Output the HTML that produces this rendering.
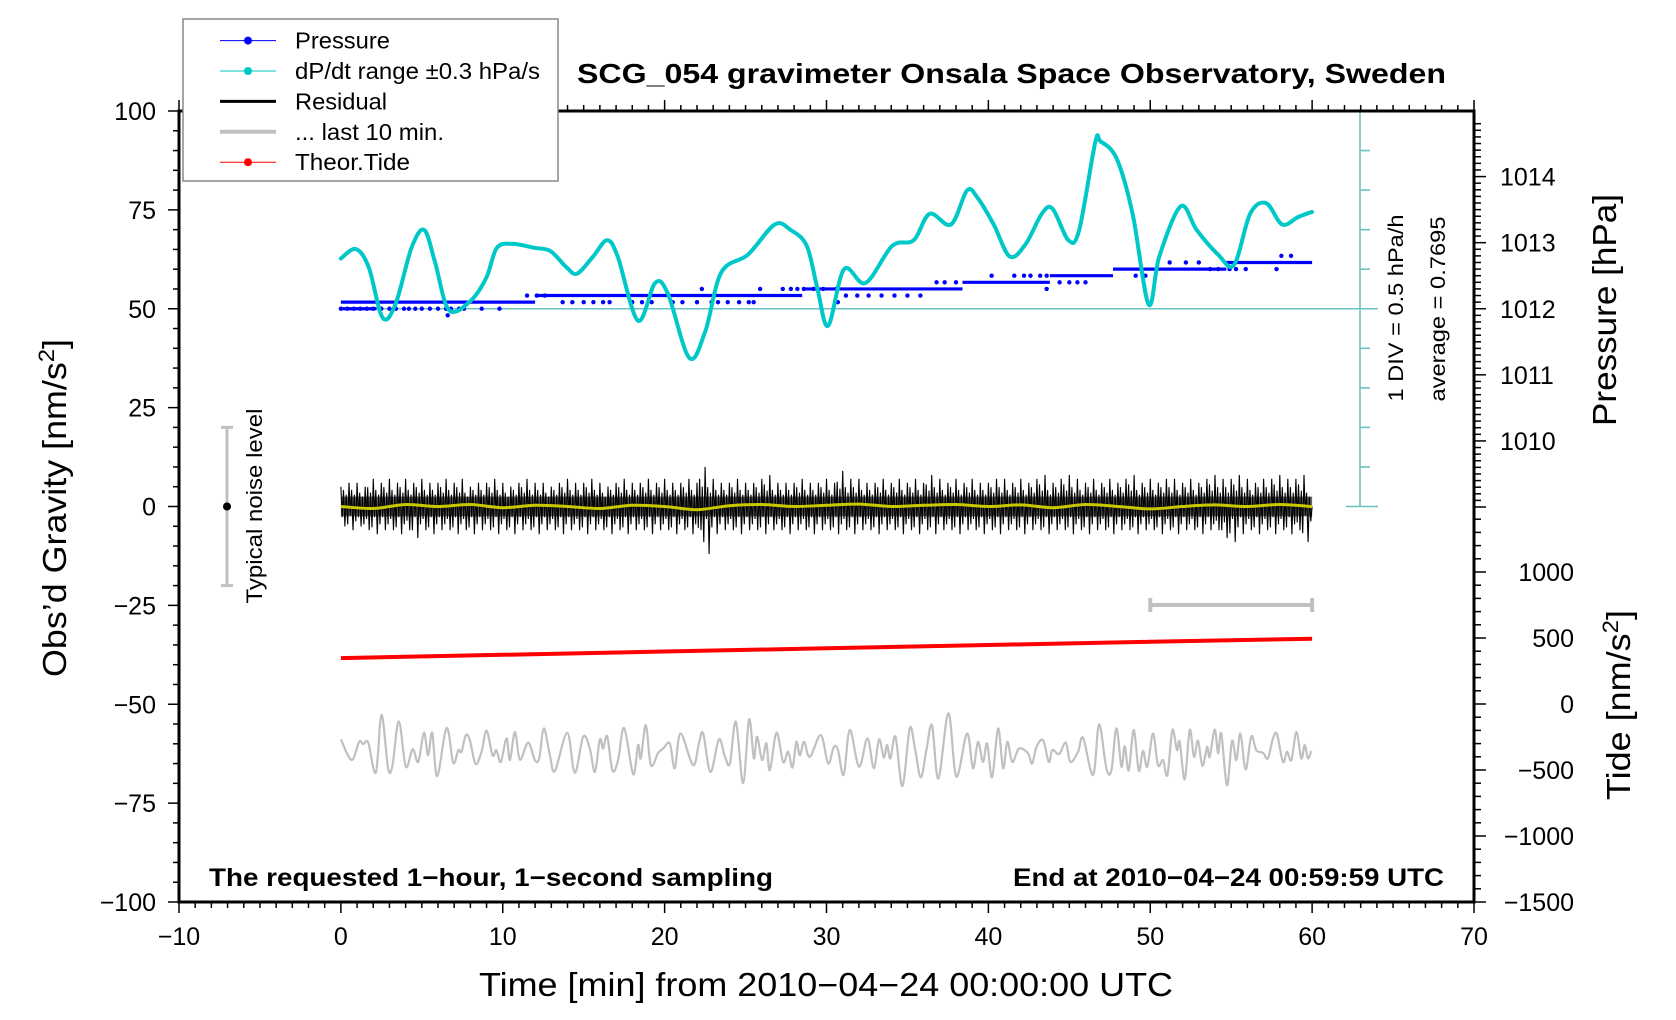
<!DOCTYPE html>
<html><head><meta charset="utf-8"><title>SCG_054 gravimeter</title>
<style>
html,body{margin:0;padding:0;background:#fff;}
svg{display:block;font-family:"Liberation Sans",sans-serif;}
</style></head>
<body>
<svg id="chart" xmlns="http://www.w3.org/2000/svg" width="1676" height="1020" viewBox="0 0 1676 1020">
  <rect x="0" y="0" width="1676" height="1020" fill="#fff"/>
  <g id="marks"></g>
  <g id="axes"></g>
  <text x="577" y="83" font-size="28" font-weight="bold" textLength="869" lengthAdjust="spacingAndGlyphs">SCG_054 gravimeter Onsala Space Observatory, Sweden</text>
  <text transform="translate(66,508) rotate(-90)" text-anchor="middle" font-size="33" textLength="338" lengthAdjust="spacingAndGlyphs">Obs’d Gravity [nm/s<tspan font-size="22" dy="-12">2</tspan><tspan dy="12">]</tspan></text>
  <text transform="translate(1616,310) rotate(-90)" text-anchor="middle" font-size="33" textLength="232" lengthAdjust="spacingAndGlyphs">Pressure [hPa]</text>
  <text transform="translate(1630,705) rotate(-90)" text-anchor="middle" font-size="33" textLength="190" lengthAdjust="spacingAndGlyphs">Tide [nm/s<tspan font-size="22" dy="-12">2</tspan><tspan dy="12">]</tspan></text>
  <text x="826" y="996" text-anchor="middle" font-size="33" textLength="694" lengthAdjust="spacingAndGlyphs">Time [min] from 2010−04−24 00:00:00 UTC</text>
  <text x="209" y="886" font-size="25" font-weight="bold" textLength="564" lengthAdjust="spacingAndGlyphs">The requested 1−hour, 1−second sampling</text>
  <text x="1444" y="886" text-anchor="end" font-size="25" font-weight="bold" textLength="431" lengthAdjust="spacingAndGlyphs">End at 2010−04−24 00:59:59 UTC</text>
  <text transform="translate(1403,308) rotate(-90)" text-anchor="middle" font-size="21" textLength="187" lengthAdjust="spacingAndGlyphs">1 DIV = 0.5 hPa/h</text>
  <text transform="translate(1445,309) rotate(-90)" text-anchor="middle" font-size="21" textLength="185" lengthAdjust="spacingAndGlyphs">average = 0.7695</text>
  <text transform="translate(262,506) rotate(-90)" text-anchor="middle" font-size="22" textLength="195" lengthAdjust="spacingAndGlyphs">Typical noise level</text>
  <g id="legend"></g>
</svg>
<script>
// ---------- data ----------
const xTicks = [-10,0,10,20,30,40,50,60,70];
const gravTicks = [100,75,50,25,0,-25,-50,-75,-100];
const pressTicks = [1010,1011,1012,1013,1014];
const tideTicks = [1000,500,0,-500,-1000,-1500];
const dpdtAverage = 0.7695;
const dpdtT = [0,0.92,1.72,2.57,3.37,4.36,5.15,5.81,6.67,7.99,8.98,9.64,10.63,11.95,12.94,13.93,14.59,15.58,16.44,17.10,18.35,19.41,20.20,21.52,22.51,23.50,25.15,26.80,27.79,28.78,29.44,30.10,31.09,32.41,34.06,35.38,36.37,37.69,38.68,39.34,40.33,41.32,42.31,43.30,43.96,44.95,45.61,46.60,46.93,47.92,48.91,49.90,50.56,51.88,52.87,54.19,55.18,56.17,57.16,58.15,59.14,60];
const dpdtDiv = [1.27,1.51,1.05,-0.22,0.11,1.54,1.99,1.19,-0.03,0.19,0.78,1.54,1.64,1.54,1.46,1.05,0.89,1.32,1.73,1.32,-0.30,0.65,0.38,-1.24,-0.57,0.92,1.37,2.13,1.99,1.59,0.51,-0.43,1.00,0.65,1.59,1.73,2.40,2.13,2.99,2.80,2.13,1.32,1.64,2.40,2.53,1.73,1.99,4.20,4.23,3.80,2.40,0.11,1.32,2.59,1.99,1.37,1.11,2.40,2.67,2.13,2.32,2.45];
const pressBreaks = [0,12,28.5,38.4,43.8,47.7,54.7,60];
const pressLevels = [1012.1,1012.2,1012.3,1012.4,1012.5,1012.6,1012.7];
const pressDotT = [0,0.4,0.8,1.2,1.6,2.0,2.5,3.0,3.4,3.9,4.2,4.6,5.0,5.5,6.0,6.5,6.8,7.3,7.6,8.7,9.8,6.6,11.5,12.1,12.6,13.7,14.3,15.0,15.6,16.2,16.6,18.0,18.6,19.2,20.5,21.1,22.0,22.9,23.3,23.9,24.6,25.2,25.5,22.3,25.9,27.3,27.8,28.2,28.6,29.2,29.8,30.6,31.2,31.9,32.6,33.4,34.2,35.0,35.8,30.7,36.8,37.3,38.0,40.2,41.6,42.2,42.6,43.2,43.6,44.4,45.0,45.5,46.0,43.6,49.1,49.7,51.2,52.2,53.0,53.7,54.2,54.9,55.3,55.9,58.1,58.7,57.8];
const pressDotP = [1012.0,1012.0,1012.0,1012.0,1012.0,1012.0,1012.0,1012.0,1012.0,1012.0,1012.0,1012.0,1012.0,1012.0,1012.0,1012.0,1012.0,1012.0,1012.0,1012.0,1012.0,1011.9,1012.2,1012.2,1012.2,1012.1,1012.1,1012.1,1012.1,1012.1,1012.1,1012.1,1012.1,1012.1,1012.1,1012.1,1012.1,1012.1,1012.1,1012.1,1012.1,1012.1,1012.1,1012.3,1012.3,1012.3,1012.3,1012.3,1012.3,1012.3,1012.3,1012.3,1012.2,1012.2,1012.2,1012.2,1012.2,1012.2,1012.2,1012.1,1012.4,1012.4,1012.4,1012.5,1012.5,1012.5,1012.5,1012.5,1012.5,1012.4,1012.4,1012.4,1012.4,1012.3,1012.5,1012.5,1012.7,1012.7,1012.7,1012.6,1012.6,1012.6,1012.6,1012.6,1012.8,1012.8,1012.6];
const resHi = [5,6,6,5,7,6,7,6,7,6,7,6,6,7,6,7,5,6,6,7,6,5,6,7,6,6,5,6,7,6,6,7,6,5,6,7,6,6,7,6,7,6,6,7,6,10,7,6,6,7,6,6,7,8,6,6,6,7,6,6,7,6,9,7,7,6,6,7,6,7,6,7,6,8,7,6,7,6,7,6,6,7,7,6,7,6,7,8,6,7,8,7,6,7,6,7,6,7,8,6,7,6,7,7,6,7,6,7,8,7,7,8,7,6,7,7,8,7,7,8];
const resLo = [-5,-6,-5,-6,-7,-6,-6,-7,-6,-8,-6,-7,-6,-6,-7,-6,-7,-6,-6,-7,-6,-7,-6,-6,-7,-6,-6,-7,-6,-6,-7,-6,-6,-7,-6,-7,-6,-6,-7,-6,-6,-7,-6,-7,-6,-12,-7,-6,-6,-7,-6,-6,-7,-6,-6,-7,-6,-6,-7,-6,-6,-7,-6,-7,-6,-6,-7,-6,-6,-7,-6,-7,-6,-7,-6,-6,-7,-6,-6,-7,-6,-7,-6,-6,-7,-6,-6,-7,-6,-6,-7,-6,-7,-6,-6,-7,-6,-6,-7,-6,-6,-7,-6,-7,-6,-6,-7,-6,-6,-8,-9,-7,-6,-7,-6,-7,-6,-7,-6,-9];
const smoothV = [0,-0.5,0.5,0,0.5,-0.3,0.3,0,-0.5,0.3,0,-0.8,0.2,0.5,0,0.3,0.6,0,0.3,0.5,0,0.4,-0.3,0.5,0,-0.6,0,0.4,0,0.5,0];
const lastOffset = -61.6;
const lastT = [0.0,0.66,1.13,1.38,1.69,2.16,2.51,2.92,3.19,3.58,4.01,4.43,4.78,5.13,5.39,5.64,5.95,6.53,6.94,7.25,7.45,7.72,7.97,8.32,8.69,9.00,9.37,9.61,9.88,10.23,10.44,10.75,11.06,11.57,11.98,12.25,12.54,12.91,13.22,13.98,14.45,14.97,15.38,15.69,16.00,16.20,16.45,16.78,17.13,17.50,18.06,18.36,18.53,18.84,19.15,19.60,19.91,20.32,20.63,20.98,21.76,22.13,22.38,22.83,23.35,23.72,24.03,24.40,24.85,25.22,25.51,25.71,26.02,26.29,26.50,26.91,27.32,27.63,27.90,28.14,28.35,28.62,28.97,29.65,30.10,30.45,30.71,31.06,31.44,32.01,32.53,32.92,33.25,33.54,33.74,33.95,34.26,34.69,35.14,35.45,35.82,36.17,36.52,36.91,37.53,38.02,38.68,39.05,39.36,39.67,39.92,40.23,40.60,40.91,41.17,41.48,41.89,42.45,42.70,42.97,43.38,43.73,43.95,44.37,44.78,45.07,45.54,45.85,46.47,46.84,47.29,47.60,47.91,48.22,48.42,48.67,48.98,49.29,49.55,49.82,50.17,50.48,50.79,51.06,51.37,51.65,51.82,52.13,52.44,52.70,52.95,53.22,53.51,53.67,53.98,54.19,54.39,54.74,55.05,55.32,55.57,55.89,56.24,56.55,56.97,57.27,57.58,57.83,58.20,58.45,58.72,59.03,59.33,59.54,59.74,59.95];
const lastV = [2.7,-2.5,2.1,1.5,1.9,-5.7,8.9,-4.6,-3.8,7.3,-4.2,0.2,-3.0,4.4,-1.3,4.4,-6.6,5.6,-3.2,0,-0.4,3.8,2.5,-3.5,-0.4,4.9,-1.3,0,-3.0,3.0,-2.5,4.6,-2.4,1.9,-2.5,-2.1,5.5,-1.3,-5.3,4.4,-5.7,3.4,0.4,-5.5,2.7,0.4,3.5,-5.2,-2.4,5.6,-6.1,1.3,-2.1,6.3,-3.8,-0.7,0.4,1.7,-4.6,4.2,-3.8,1.9,4.2,-5.5,2.7,-1.5,-3.4,7.2,-8.3,7.8,-2.1,3.4,-2.5,1.7,-5.1,4.4,-3.0,-0.4,-4.4,2.1,-1.3,2.1,-1.7,3.8,-3.4,0.8,0,-6.3,5.1,-4.2,3.0,-4.6,2.7,-1.9,1.3,-2.1,3.4,-9.1,5.5,0.8,-6.9,0,6.3,-7.2,9.3,-6.7,4.2,-4.6,2.1,-3.0,1.7,-6.9,5.5,-4.6,2.1,-3.0,0.4,-0.8,-3.4,0.8,2.5,-3.0,0,-1.0,1.9,-3.0,-0.4,3.1,-6.3,6.5,-4.6,-5.1,5.5,-4.2,1.0,-5.1,5.1,-5.2,-0.2,-4.2,4.2,-3.8,-2.5,-6.3,5.1,0,2.1,-7.4,5.1,-1.7,2.4,-4.0,0.8,-1.7,5.2,-0.8,4.2,-8.9,2.3,-2.5,4.2,-4.9,3.5,0,-0.7,-2.1,3.0,4.0,-3.0,-0.4,-2.5,4.6,-2.1,1.3,-2.1,-0.2];
const tideT = [0,10,20,30,40,50,60];
const tideV = [348,373,398,422,447,471,495];

// ---------- scales ----------
function X(t){ return 179 + (t + 10) * 16.1875; }
function Yg(v){ return 111 + (100 - v) * 3.955; }
function Yp(p){ return Yg(50 + (p - 1012) * 16.71); }
function Yt(v){ return 902 - (v + 1500) * 0.1320; }
function Yd(div){ return Yg(50 + div * 10); }
function smoothPath(P){
  let d = 'M' + P[0][0].toFixed(1) + ',' + P[0][1].toFixed(1);
  for (let i = 0; i < P.length - 1; i++) {
    const p0 = P[i-1] || P[i], p1 = P[i], p2 = P[i+1], p3 = P[i+2] || P[i+1];
    const c1x = p1[0] + (p2[0]-p0[0])/6, c1y = p1[1] + (p2[1]-p0[1])/6;
    const c2x = p2[0] - (p3[0]-p1[0])/6, c2y = p2[1] - (p3[1]-p1[1])/6;
    d += 'C' + c1x.toFixed(1) + ',' + c1y.toFixed(1) + ' ' + c2x.toFixed(1) + ',' + c2y.toFixed(1) + ' ' + p2[0].toFixed(1) + ',' + p2[1].toFixed(1);
  }
  return d;
}

const NS = 'http://www.w3.org/2000/svg';
function mk(parent, tag, attrs){
  const e = document.createElementNS(NS, tag);
  for (const k in attrs) e.setAttribute(k, attrs[k]);
  parent.appendChild(e);
  return e;
}
const marks = document.getElementById('marks');
const axes = document.getElementById('axes');
const legend = document.getElementById('legend');

// ---------- marks ----------
let el = mk(marks, 'line', {x1: X(0), x2: 1378, y1: Yd(0), y2: Yd(0), stroke: '#6cc3c3', 'stroke-width': 1.6});


el = mk(marks, 'line', {x1: 1360, x2: 1360, y1: Yd(5), y2: Yd(-5), stroke: '#6cc3c3', 'stroke-width': 1.6});


for (let d = -5; d <= 5; d++) {
  const cap = (d === 5 || d === -5);
  el = mk(marks, 'line', {x1: cap ? 1346 : 1360, x2: cap ? 1378 : 1370, y1: Yd(d), y2: Yd(d), stroke: '#6cc3c3', 'stroke-width': 1.6});
  
  
}

for (let i = 0; i < pressLevels.length; i++) {
  el = mk(marks, 'line', {x1: X(pressBreaks[i]), x2: X(pressBreaks[i+1]), y1: Yp(pressLevels[i]), y2: Yp(pressLevels[i]), stroke: '#0000ff', 'stroke-width': 3.2});
  
  
}
el = mk(marks, 'line', {x1: X(0), x2: X(2.2), y1: Yp(1012.0), y2: Yp(1012.0), stroke: '#0000ff', 'stroke-width': 3.2});


for (let i = 0; i < pressDotT.length; i++) {
  el = mk(marks, 'circle', {cx: X(pressDotT[i]), cy: Yp(pressDotP[i]), r: 2.2, fill: '#0000ff'});
  
  
}

el = mk(marks, 'path', {d: smoothPath(dpdtT.map((t, i) => [X(t), Yd(dpdtDiv[i])])), fill: 'none', stroke: '#00c8c8', 'stroke-width': 4, 'stroke-linejoin': 'round', 'stroke-linecap': 'round'});



// residual
let rp = [];
for (let i = 0; i < resHi.length; i++) {
  const j = (i + 1) % resHi.length;
  const b = i * 0.5;
  rp.push(X(b).toFixed(1) + ',' + Yg(resHi[i]).toFixed(1));
  rp.push(X(b + 0.08).toFixed(1) + ',' + Yg(resLo[j] * 0.45).toFixed(1));
  rp.push(X(b + 0.16).toFixed(1) + ',' + Yg(resHi[j] * 0.7).toFixed(1));
  rp.push(X(b + 0.25).toFixed(1) + ',' + Yg(resLo[i]).toFixed(1));
  rp.push(X(b + 0.33).toFixed(1) + ',' + Yg(resHi[j] * 0.5).toFixed(1));
  rp.push(X(b + 0.42).toFixed(1) + ',' + Yg(resLo[j] * 0.75).toFixed(1));
}
rp.push(X(60).toFixed(1) + ',' + Yg(0).toFixed(1));
el = mk(marks, 'polyline', {points: rp.join(' '), fill: 'none', stroke: '#000', 'stroke-width': 1.1});


el = mk(marks, 'rect', {x: X(0), y: Yg(2.5), width: X(60) - X(0), height: Yg(-2.5) - Yg(2.5), fill: '#000', opacity: 0.6});


el = mk(marks, 'path', {d: smoothPath(smoothV.map((v, i) => [X(i * 2), Yg(v)])), fill: 'none', stroke: '#c8c800', 'stroke-width': 3});



el = mk(marks, 'path', {d: smoothPath(lastT.map((t, i) => [X(t), Yg(lastOffset + lastV[i])])), fill: 'none', stroke: '#c0c0c0', 'stroke-width': 2.2, 'stroke-linejoin': 'round'});


const barY = 605;
el = mk(marks, 'path', {d: `M${X(50)},${barY-7}V${barY+7}M${X(50)},${barY}H${X(60)}M${X(60)},${barY-7}V${barY+7}`, stroke: '#c0c0c0', 'stroke-width': 4, fill: 'none'});



const tpts = tideT.map((t, i) => X(t).toFixed(1) + ',' + Yt(tideV[i]).toFixed(1)).join(' ');
el = mk(marks, 'polyline', {points: tpts, fill: 'none', stroke: '#ff0000', 'stroke-width': 4});



el = mk(marks, 'path', {d: `M221,${Yg(20)}H233M227,${Yg(20)}V${Yg(-20)}M221,${Yg(-20)}H233`, stroke: '#c0c0c0', 'stroke-width': 3, fill: 'none'});


el = mk(marks, 'circle', {cx: 227, cy: Yg(0), r: 4, fill: '#000'});



// ---------- axes ----------
el = mk(axes, 'rect', {x: 179, y: 111, width: 1295, height: 791, fill: 'none', stroke: '#000', 'stroke-width': 3});


for (let t = -10; t <= 70; t++) {
  const major = (t % 10 === 0);
  const len = major ? 11 : 6;
  el = mk(axes, 'line', {x1: X(t), x2: X(t), y1: 902, y2: 902 + len, stroke: '#000', 'stroke-width': 1.5});
  
  
  el = mk(axes, 'line', {x1: X(t), x2: X(t), y1: 111, y2: 111 - len, stroke: '#000', 'stroke-width': 1.5});
  
  
}
xTicks.forEach(t => {
  const tx = mk(axes, 'text', {x: X(t), y: 945, 'text-anchor': 'middle', 'font-size': 25});
  tx.textContent = String(t).replace('-', '−');
  
  
});
for (let v = -100; v <= 100; v += 5) {
  const major = (v % 25 === 0);
  el = mk(axes, 'line', {x1: 179 - (major ? 11 : 6), x2: 179, y1: Yg(v), y2: Yg(v), stroke: '#000', 'stroke-width': 1.5});
  
  
}
gravTicks.forEach(v => {
  const tx = mk(axes, 'text', {x: 156, y: Yg(v) + 9, 'text-anchor': 'end', 'font-size': 25});
  tx.textContent = String(v).replace('-', '−');
  
  
});
for (let i = 90; i <= 148; i++) {
  const p = i / 10;
  const major = (i % 10 === 0);
  el = mk(axes, 'line', {x1: 1474, x2: 1474 + (major ? 12 : 7), y1: Yp(1000 + p), y2: Yp(1000 + p), stroke: '#000', 'stroke-width': 1.5});
  
  
}
pressTicks.forEach(p => {
  const tx = mk(axes, 'text', {x: 1500, y: Yp(p) + 9, 'font-size': 25});
  tx.textContent = String(p);
  
  
});
for (let v = -1500; v <= 1400; v += 100) {
  const major = (v % 500 === 0);
  el = mk(axes, 'line', {x1: 1474, x2: 1474 + (major ? 12 : 7), y1: Yt(v), y2: Yt(v), stroke: '#000', 'stroke-width': 1.5});
  
  
}
tideTicks.forEach(v => {
  const tx = mk(axes, 'text', {x: 1574, y: Yt(v) + 9, 'text-anchor': 'end', 'font-size': 25});
  tx.textContent = String(v).replace('-', '−');
  
  
});

// ---------- legend ----------
el = mk(legend, 'rect', {x: 183, y: 19, width: 375, height: 162, fill: '#fff', stroke: '#888', 'stroke-width': 1.5});


const legLabels = ['Pressure', 'dP/dt range ±0.3 hPa/s', 'Residual', '... last 10 min.', 'Theor.Tide'];
const legColors = ['#0000ff', '#00c8c8', '#000000', '#c0c0c0', '#ff0000'];
const legWidths = [1, 1, 3, 4, 1];
const legDots = [true, true, false, false, true];
const legLens = [95, 245, 92, 149, 115];
legLabels.forEach((lab, i) => {
  const cy = 40.6 + i * 30.4;
  const g = mk(legend, 'g', {});
  
  
  const ln = mk(g, 'line', {x1: 220, x2: 276, y1: cy, y2: cy, stroke: legColors[i], 'stroke-width': legWidths[i]});
  
  
  if (legDots[i]) {
    const c = mk(g, 'circle', {cx: 248, cy: cy, r: 4, fill: legColors[i]});
    
    
  }
  const tx = mk(g, 'text', {x: 295, y: cy + 8, 'font-size': 23, textLength: legLens[i], lengthAdjust: 'spacingAndGlyphs'});
  tx.textContent = lab;
  
  
});
</script>
</body></html>
